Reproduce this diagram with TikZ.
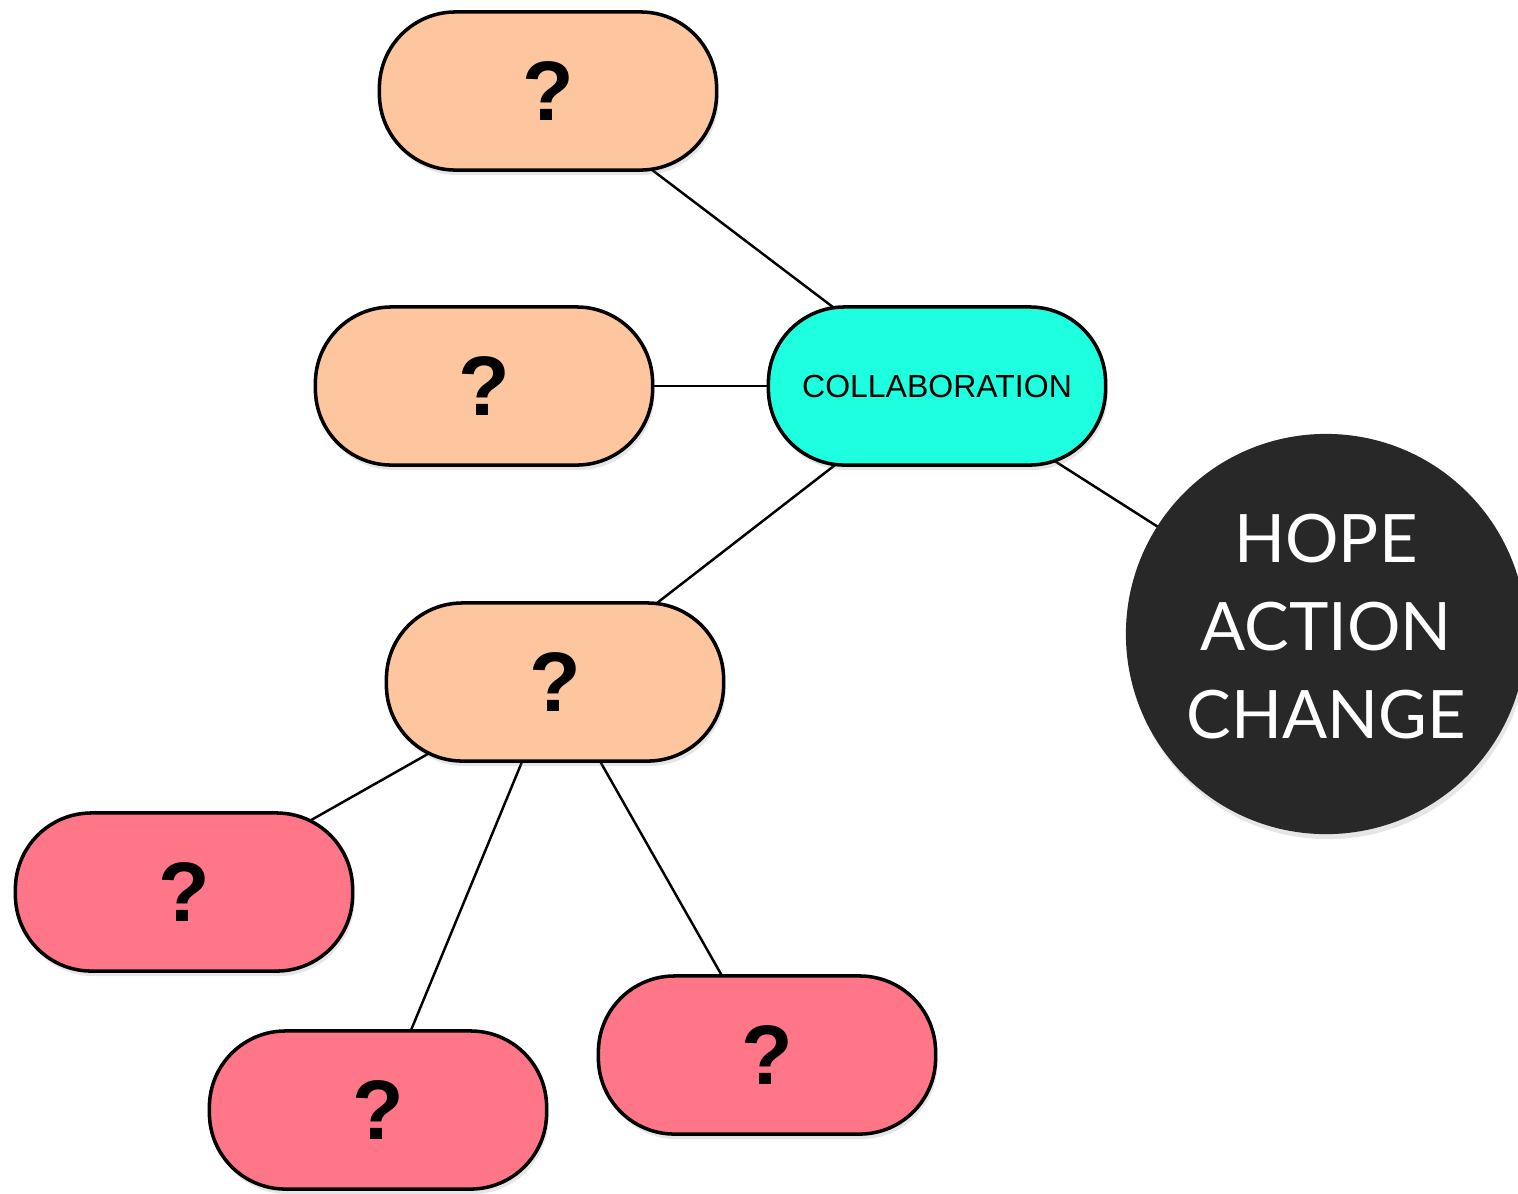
\documentclass[tikz,border=0pt]{standalone}
\usepackage{fontspec}
\setmainfont{Liberation Sans}
\newfontfamily\hopefont{Lato}
\usetikzlibrary{shadows}
\usetikzlibrary{backgrounds}

\definecolor{peach}{HTML}{FDC69E}
\definecolor{aqua}{HTML}{1EFFE0}
\definecolor{rose}{HTML}{FF7689}
\definecolor{coal}{HTML}{282828}

\begin{document}
\begin{tikzpicture}[x=0.01cm,y=-0.01cm]
    \tikzstyle{edge}=[draw=black,line width=0.7pt,-]
    \tikzstyle{pill}=[rectangle,rounded corners=0.76cm,line width=1pt,draw=black,
        minimum width=3.37cm,minimum height=1.58cm,inner sep=0pt,
        drop shadow={opacity=0.2,shadow xshift=0.02cm,shadow yshift=-0.05cm}]
    \tikzstyle{quest}=[pill,font=\fontsize{24}{28}\selectfont\bfseries]
    \tikzstyle{topic}=[quest,fill=peach]
    \tikzstyle{sub}=[quest,fill=rose]

    \useasboundingbox (0,0) rectangle (1518,1193);

    \node[pill,fill=aqua,font=\fontsize{9.1}{11}\selectfont] (collab) at (937,386) {COLLABORATION};

    \node[topic] (q1) at (548, 91) {?};
    \node[topic] (q2) at (484,386) {?};
    \node[topic] (q3) at (555,682) {?};

    \node[sub] (r1) at (184, 892) {?};
    \node[sub] (r2) at (378,1110) {?};
    \node[sub] (r3) at (767,1055) {?};

    \node[circle,fill=coal,minimum size=4cm,inner sep=0pt,text=white,align=center,
        drop shadow={opacity=0.2,shadow xshift=0.02cm,shadow yshift=-0.05cm},
        font=\hopefont\fontsize{19}{25}\selectfont] (hope) at (1326,634)
        {HOPE\\ACTION\\CHANGE\rule[-0.16cm]{0pt}{0pt}};

    \begin{pgfonlayer}{background}
    \path[edge] (q1.center) -- (collab.center);
    \path[edge] (q2.center) -- (collab.center);
    \path[edge] (q3.center) -- (collab.center);
    \path[edge] (collab.center) -- (hope.center);

    \path[edge] (q3.center) -- (r1.center);
    \path[edge] (q3.center) -- (r2.center);
    \path[edge] (q3.center) -- (r3.center);
    \end{pgfonlayer}
\end{tikzpicture}
\end{document}
